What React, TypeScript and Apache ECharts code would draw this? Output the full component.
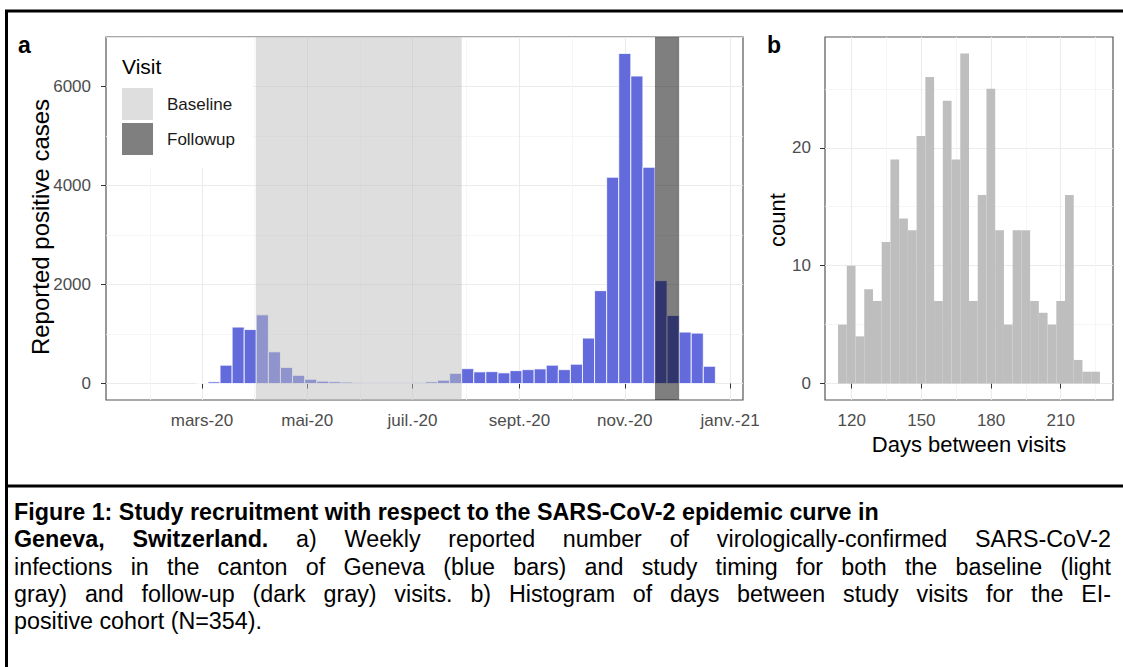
import React, { useEffect, useRef } from 'react';
import * as echarts from 'echarts';

// ---------------- data ----------------
// Panel a: weekly reported positive cases (week centres, Sundays)
const weekDates = [
  '2020-03-01', '2020-03-08', '2020-03-15', '2020-03-22', '2020-03-29',
  '2020-04-05', '2020-04-12', '2020-04-19', '2020-04-26', '2020-05-03',
  '2020-05-10', '2020-05-17', '2020-05-24', '2020-05-31', '2020-06-07',
  '2020-06-14', '2020-06-21', '2020-06-28', '2020-07-05', '2020-07-12',
  '2020-07-19', '2020-07-26', '2020-08-02', '2020-08-09', '2020-08-16',
  '2020-08-23', '2020-08-30', '2020-09-06', '2020-09-13', '2020-09-20',
  '2020-09-27', '2020-10-04', '2020-10-11', '2020-10-18', '2020-10-25',
  '2020-11-01', '2020-11-08', '2020-11-15', '2020-11-22', '2020-11-29',
  '2020-12-06', '2020-12-13', '2020-12-20',
];
const weeklyCases = [
  8, 33, 370, 1140, 1090,
  1387, 640, 325, 165, 85,
  47, 35, 28, 20, 14,
  13, 13, 13, 20, 33,
  67, 205, 300, 235, 240,
  215, 260, 280, 295, 370,
  280, 390, 918, 1876, 4167,
  6667, 6211, 4368, 2077, 1374,
  1039, 1018, 348,
];

// Study visit windows
const visitNames = ['Baseline', 'Followup'];
const visitStart = ['2020-04-01T06:00', '2020-11-18T12:00'];
const visitEnd = ['2020-07-29T12:00', '2020-12-02T12:00'];

// Panel a axis ticks
const monthTicks = ['2020-03-01', '2020-05-01', '2020-07-01', '2020-09-01', '2020-11-01', '2021-01-01'];
const monthLabels = ['mars-20', 'mai-20', 'juil.-20', 'sept.-20', 'nov.-20', 'janv.-21'];
const monthMinorTicks = ['2020-01-31', '2020-03-31T12:00', '2020-05-31T12:00', '2020-08-01', '2020-10-01T12:00', '2020-12-01T12:00'];
const casesTicks = [0, 2000, 4000, 6000];
const casesMinorTicks = [1000, 3000, 5000, 7000];

// Panel b: histogram of days between visits (30 bins)
const binCenters = [
  116.0, 119.76, 123.52, 127.28, 131.03, 134.79, 138.55, 142.31, 146.07, 149.83,
  153.59, 157.34, 161.1, 164.86, 168.62, 172.38, 176.14, 179.9, 183.66, 187.41,
  191.17, 194.93, 198.69, 202.45, 206.21, 209.97, 213.72, 217.48, 221.24, 225.0,
];
const binCounts = [
  5, 10, 4, 8, 7, 12, 19, 14, 13, 21,
  26, 7, 24, 19, 28, 7, 16, 25, 13, 5,
  13, 13, 7, 6, 5, 7, 16, 2, 1, 1,
];
const daysTicks = [120, 150, 180, 210];
const daysMinorTicks = [135, 165, 195, 225];
const countTicks = [0, 10, 20];
const countMinorTicks = [5, 15, 25];

// Caption: each line is a list of [text, bold] segments; justified lines are stretched to the margin
const captionLines: [string, boolean][][] = [
  [['Figure 1: Study recruitment with respect to the SARS-CoV-2 epidemic curve in', true]],
  [['Geneva, Switzerland.', true], ['a) Weekly reported number of virologically-confirmed SARS-CoV-2', false]],
  [['infections in the canton of Geneva (blue bars) and study timing for both the baseline (light', false]],
  [['gray) and follow-up (dark gray) visits. b) Histogram of days between study visits for the EI-', false]],
  [['positive cohort (N=354).', false]],
];
const captionJustified = [false, true, true, true, false];

// ---------------- styles ----------------
const FONT = "'Liberation Sans', Arial, Helvetica, sans-serif";
const BAR_BLUE = '#626ADC';
const HIST_GREY = '#BEBEBE';
const visitFill = ['rgba(190,190,190,0.5)', 'rgba(0,0,0,0.5)'];
const HALF_WEEK = 3.5 * 86400000;
const BIN_HALF = 109 / 29 / 2;
const CAPTION_SIZE = 23.3;
const CAPTION_LEFT = 14;
const CAPTION_RIGHT = 1111;
const CAPTION_TOP = 512;
const CAPTION_LEADING = 27.3;

const t = (s: string) => Date.parse(s.length === 10 ? s + 'T00:00:00Z' : s + ':00Z');

const tickLabel = { color: '#4D4D4D', fontSize: 17, fontFamily: FONT };
const majorLine = { color: '#EBEBEB', width: 1.1 };
const minorLine = { color: '#F4F4F4', width: 0.8 };

function majorAxis(gridIndex: number, min: number, max: number, ticks: number[], fmt: (v: number) => string, margin: number, extra: any = {}) {
  return {
    type: 'value', gridIndex, min, max,
    axisLine: { show: false },
    axisTick: { show: true, length: 5, lineStyle: { color: '#333333', width: 1 }, customValues: ticks },
    axisLabel: { show: true, customValues: ticks, formatter: fmt, margin, ...tickLabel },
    splitLine: { show: true, lineStyle: majorLine },
    ...extra,
  };
}
function minorAxis(gridIndex: number, min: number, max: number, ticks: number[], extra: any = {}) {
  return {
    type: 'value', gridIndex, min, max,
    axisLine: { show: false },
    axisTick: { show: false, customValues: ticks },
    axisLabel: { show: false, customValues: ticks },
    splitLine: { show: true, lineStyle: minorLine },
    ...extra,
  };
}

function captionGraphics(): any[] {
  const ctx = document.createElement('canvas').getContext('2d');
  const measure = (s: string, bold: boolean) => {
    if (!ctx) return s.length * CAPTION_SIZE * 0.5;
    ctx.font = `${bold ? 'bold ' : ''}${CAPTION_SIZE}px ${FONT}`;
    return ctx.measureText(s).width;
  };
  const baseStyle = (bold: boolean) => ({
    fontSize: CAPTION_SIZE, fontFamily: FONT, fontWeight: bold ? 'bold' : 'normal', fill: '#000000',
    align: 'left', verticalAlign: 'middle', textAlign: 'left', textVerticalAlign: 'middle',
  });
  const out: any[] = [];
  captionLines.forEach((segments, li) => {
    const y = CAPTION_TOP + li * CAPTION_LEADING;
    if (!captionJustified[li]) {
      let x = CAPTION_LEFT;
      segments.forEach(([text, bold]) => {
        out.push({ type: 'text', z: 6, x, y, style: { text, ...baseStyle(bold) } });
        x += measure(text + ' ', bold);
      });
      return;
    }
    const words: [string, boolean][] = [];
    segments.forEach(([text, bold]) => text.split(' ').forEach((w) => words.push([w, bold])));
    const natural = words.reduce((s, [w, b]) => s + measure(w, b), 0);
    const gap = (CAPTION_RIGHT - CAPTION_LEFT - natural) / (words.length - 1);
    let x = CAPTION_LEFT;
    words.forEach(([w, b]) => {
      out.push({ type: 'text', z: 6, x, y, style: { text: w, ...baseStyle(b) } });
      x += measure(w, b) + gap;
    });
  });
  return out;
}

export default function App() {
  const ref = useRef<HTMLDivElement>(null);
  useEffect(() => {
    if (!ref.current) return;
    const chart = echarts.init(ref.current, undefined, { renderer: 'svg' });
    const monthTickValues = monthTicks.map(t);
    const labelOf = (v: number) => {
      const i = monthTickValues.indexOf(v);
      return i >= 0 ? monthLabels[i] : '';
    };
    const xMinA = t('2020-01-05T10:00');
    const xMaxA = t('2021-01-08T12:00');

    const option: any = {
      animation: false,
      backgroundColor: '#ffffff',
      textStyle: { fontFamily: FONT },
      grid: [
        { left: 106, top: 37, right: 380, bottom: 267, show: true, borderColor: '#555555', borderWidth: 1.2, backgroundColor: 'transparent' },
        { left: 825, top: 37, right: 10, bottom: 267, show: true, borderColor: '#555555', borderWidth: 1.2, backgroundColor: 'transparent' },
      ],
      xAxis: [
        majorAxis(0, xMinA, xMaxA, monthTickValues, labelOf, 12),
        minorAxis(0, xMinA, xMaxA, monthMinorTicks.map(t)),
        majorAxis(1, 108.5, 232.5, daysTicks, (v: number) => String(v), 12),
        minorAxis(1, 108.5, 232.5, daysMinorTicks),
      ],
      yAxis: [
        majorAxis(0, -333, 7000, casesTicks, (v: number) => String(v), 15, { position: 'left' }),
        minorAxis(0, -333, 7000, casesMinorTicks, { position: 'left' }),
        majorAxis(1, -1.4, 29.4, countTicks, (v: number) => String(v), 14, { position: 'left' }),
        minorAxis(1, -1.4, 29.4, countMinorTicks, { position: 'left' }),
      ],
      legend: {
        data: visitNames,
        orient: 'vertical',
        left: 122,
        top: 88,
        padding: 0,
        itemWidth: 31,
        itemHeight: 32,
        itemGap: 3,
        icon: 'rect',
        selectedMode: false,
        z: 6,
        textStyle: { fontSize: 17, color: '#1A1A1A', fontFamily: FONT, padding: [0, 0, 0, 9] },
      },
      series: [
        {
          type: 'custom',
          name: 'Reported positive cases',
          xAxisIndex: 0,
          yAxisIndex: 0,
          z: 2,
          data: weekDates.map((d, i) => [t(d), weeklyCases[i]]),
          encode: { x: 0, y: 1 },
          renderItem: (params: any, api: any) => {
            const c = api.value(0);
            const v = api.value(1);
            const p0 = api.coord([c - HALF_WEEK, v]);
            const p1 = api.coord([c + HALF_WEEK, 0]);
            return {
              type: 'rect',
              shape: { x: p0[0], y: p0[1], width: p1[0] - p0[0], height: p1[1] - p0[1] },
              style: { fill: BAR_BLUE, stroke: '#ffffff', lineWidth: 0.8 },
            };
          },
        },
        ...visitNames.map((name, i) => ({
          type: 'custom',
          name,
          xAxisIndex: 0,
          yAxisIndex: 0,
          z: 3,
          itemStyle: { color: visitFill[i] },
          data: [[t(visitStart[i]), t(visitEnd[i])]],
          renderItem: (params: any, api: any) => {
            const cs = params.coordSys;
            const x0 = api.coord([api.value(0), 0])[0];
            const x1 = api.coord([api.value(1), 0])[0];
            return {
              type: 'rect',
              shape: { x: x0, y: cs.y, width: x1 - x0, height: cs.height },
              style: { fill: api.visual('color') },
            };
          },
        })),
        {
          type: 'custom',
          name: 'count',
          xAxisIndex: 2,
          yAxisIndex: 2,
          z: 2,
          data: binCenters.map((c, i) => [c, binCounts[i]]),
          encode: { x: 0, y: 1 },
          renderItem: (params: any, api: any) => {
            const c = api.value(0);
            const v = api.value(1);
            const p0 = api.coord([c - BIN_HALF, v]);
            const p1 = api.coord([c + BIN_HALF, 0]);
            return {
              type: 'rect',
              shape: { x: p0[0], y: p0[1], width: p1[0] - p0[0], height: p1[1] - p0[1] },
              style: { fill: HIST_GREY },
            };
          },
        },
      ],
      graphic: [
        // legend background and title
        { type: 'rect', z: 5, shape: { x: 107, y: 38, width: 146, height: 130 }, style: { fill: '#ffffff' } },
        { type: 'text', z: 6, x: 122, y: 66, style: { text: 'Visit', fontSize: 21, fontFamily: FONT, fill: '#000000', align: 'left', verticalAlign: 'middle', textAlign: 'left', textVerticalAlign: 'middle' } },
        // panel letters
        { type: 'text', z: 6, x: 18, y: 45, style: { text: 'a', fontSize: 23, fontWeight: 'bold', fontFamily: FONT, fill: '#000000', verticalAlign: 'middle', textVerticalAlign: 'middle' } },
        { type: 'text', z: 6, x: 767, y: 45, style: { text: 'b', fontSize: 23, fontWeight: 'bold', fontFamily: FONT, fill: '#000000', verticalAlign: 'middle', textVerticalAlign: 'middle' } },
        // axis titles
        { type: 'text', z: 6, x: 40, y: 227, rotation: Math.PI / 2, style: { text: 'Reported positive cases', fontSize: 24, fontFamily: FONT, fill: '#000000', align: 'center', verticalAlign: 'middle', textAlign: 'center', textVerticalAlign: 'middle' } },
        { type: 'text', z: 6, x: 777, y: 220, rotation: Math.PI / 2, style: { text: 'count', fontSize: 22, fontFamily: FONT, fill: '#000000', align: 'center', verticalAlign: 'middle', textAlign: 'center', textVerticalAlign: 'middle' } },
        { type: 'text', z: 6, x: 969, y: 444, style: { text: 'Days between visits', fontSize: 22, fontFamily: FONT, fill: '#000000', align: 'center', verticalAlign: 'middle', textAlign: 'center', textVerticalAlign: 'middle' } },
        // outer frame
        { type: 'line', z: 7, shape: { x1: 5, y1: 11, x2: 1123, y2: 11 }, style: { stroke: '#000000', lineWidth: 3 } },
        { type: 'line', z: 7, shape: { x1: 6.5, y1: 10, x2: 6.5, y2: 667 }, style: { stroke: '#000000', lineWidth: 3 } },
        { type: 'line', z: 7, shape: { x1: 5, y1: 486, x2: 1123, y2: 486 }, style: { stroke: '#000000', lineWidth: 3 } },
        // caption
        ...captionGraphics(),
      ],
    };
    chart.setOption(option);
    return () => chart.dispose();
  }, []);
  return <div ref={ref} style={{ position: 'fixed', left: 0, top: 0, width: 1123, height: 667 }} />;
}
